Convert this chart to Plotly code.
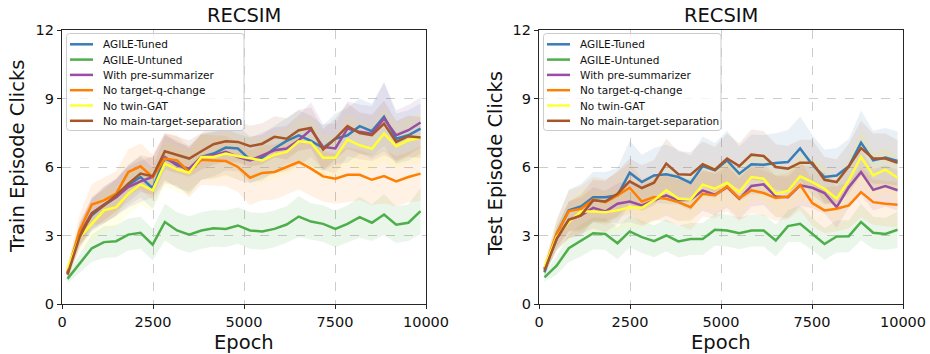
import plotly.graph_objects as go

epochs = [150, 484, 819, 1153, 1488, 1822, 2157, 2491, 2826, 3160, 3495, 3829, 4164, 4498, 4833,
          5167, 5502, 5836, 6171, 6505, 6840, 7174, 7509, 7843, 8178, 8512, 8847, 9181, 9516, 9850]

series_names = ["AGILE-Tuned", "AGILE-Untuned", "With pre-summarizer",
                "No target-q-change", "No twin-GAT", "No main-target-separation"]
series_colors = ["#377eb8", "#4daf4a", "#984ea3", "#ff7f00", "#ffff33", "#a65628"]

# ---- Train (left) ----
train_tuned = [1.32, 3.07, 3.88, 4.32, 4.68, 5.20, 5.56, 5.07, 6.37, 6.15, 5.82, 6.44, 6.59, 6.85, 6.81,
               6.32, 6.41, 6.81, 7.14, 7.39, 7.14, 6.83, 7.24, 7.39, 7.79, 7.57, 8.20, 7.24, 7.39, 7.68]
train_untuned = [1.10, 1.79, 2.44, 2.71, 2.75, 3.04, 3.12, 2.60, 3.59, 3.22, 3.04, 3.22, 3.32, 3.29, 3.44,
                 3.22, 3.18, 3.29, 3.48, 3.83, 3.61, 3.51, 3.29, 3.51, 3.80, 3.56, 3.92, 3.47, 3.56, 4.07]
train_presum = [1.35, 3.07, 3.98, 4.36, 4.68, 5.12, 5.37, 5.56, 6.44, 6.07, 5.93, 6.44, 6.51, 6.66, 6.44,
                6.29, 6.51, 6.73, 6.81, 7.17, 7.64, 6.88, 6.81, 7.68, 7.54, 7.46, 8.12, 7.39, 7.61, 7.95]
train_noq = [1.39, 3.22, 4.36, 4.54, 4.83, 5.78, 6.03, 5.56, 6.37, 6.29, 5.78, 6.32, 6.29, 6.26, 6.00,
             5.53, 5.74, 5.78, 6.00, 6.22, 5.93, 5.59, 5.49, 5.66, 5.66, 5.44, 5.60, 5.37, 5.56, 5.71]
train_notwin = [1.54, 2.93, 3.51, 4.10, 4.24, 4.83, 5.24, 4.98, 6.15, 5.90, 5.75, 6.44, 6.44, 6.59, 6.47,
                6.37, 6.29, 6.54, 6.66, 7.13, 7.07, 6.40, 6.40, 7.20, 6.95, 6.80, 7.46, 6.91, 7.17, 7.27]
train_nosep = [1.29, 2.93, 3.95, 4.32, 4.76, 5.27, 5.71, 5.59, 6.69, 6.54, 6.37, 6.69, 7.00, 7.13, 7.10,
               6.91, 7.02, 7.32, 7.24, 7.61, 7.71, 6.76, 7.24, 7.79, 7.49, 7.39, 7.90, 7.10, 7.35, 7.29]

train_tuned_sd = [0.2, 0.5, 0.7, 0.8, 0.8, 0.9, 0.9, 0.9, 1.0, 1.0, 1.0, 1.0, 1.0, 1.0, 1.0,
                  1.0, 1.0, 1.0, 1.0, 1.1, 1.1, 1.0, 1.1, 1.2, 1.2, 1.2, 1.5, 1.1, 1.1, 1.1]
train_untuned_sd = [0.2, 0.4, 0.6, 0.7, 0.7, 0.7, 0.7, 0.7, 0.8, 0.8, 0.8, 0.8, 0.8, 0.8, 0.8,
                    0.8, 0.8, 0.8, 0.8, 0.9, 0.8, 0.8, 0.8, 0.8, 0.9, 0.8, 0.9, 0.8, 0.8, 1.0]
train_presum_sd = [0.2, 0.5, 0.7, 0.8, 0.8, 0.9, 0.9, 0.9, 1.0, 1.0, 1.0, 1.0, 1.0, 1.0, 1.0,
                   1.0, 1.0, 1.0, 1.0, 1.1, 1.2, 1.0, 1.1, 1.2, 1.2, 1.2, 1.6, 1.1, 1.1, 1.1]
train_noq_sd = [0.3, 0.7, 0.9, 1.0, 1.0, 1.0, 1.0, 1.0, 1.1, 1.1, 1.1, 1.1, 1.1, 1.1, 1.1,
                1.2, 1.2, 1.2, 1.2, 1.2, 1.2, 1.1, 1.1, 1.2, 1.1, 1.1, 1.2, 1.1, 1.1, 1.2]
train_notwin_sd = [0.3, 0.6, 0.8, 0.9, 0.9, 0.9, 0.9, 0.9, 1.0, 1.0, 1.0, 1.0, 1.0, 1.0, 1.0,
                   1.0, 1.0, 1.0, 1.0, 1.1, 1.1, 1.0, 1.0, 1.1, 1.1, 1.0, 1.2, 1.0, 1.0, 1.1]
train_nosep_sd = [0.2, 0.5, 0.7, 0.7, 0.7, 0.8, 0.8, 0.8, 0.8, 0.8, 0.8, 0.8, 0.9, 0.9, 0.9,
                  0.9, 0.9, 0.9, 0.9, 0.9, 0.9, 0.9, 0.9, 1.0, 0.9, 0.9, 1.0, 0.9, 0.9, 0.9]

# ---- Test (right) ----
test_tuned = [1.39, 3.07, 4.10, 4.27, 4.68, 4.68, 4.76, 5.75, 5.34, 5.63, 5.68, 5.56, 5.30, 6.04, 5.85,
              6.29, 5.71, 6.12, 6.10, 6.18, 6.22, 6.81, 6.10, 5.56, 5.63, 6.03, 7.07, 6.29, 6.41, 6.26]
test_untuned = [1.17, 1.68, 2.44, 2.78, 3.10, 3.07, 2.66, 3.18, 2.93, 2.75, 3.00, 2.74, 2.85, 2.85, 3.25,
                3.22, 3.10, 3.22, 3.22, 2.78, 3.41, 3.51, 3.07, 2.63, 2.96, 2.97, 3.59, 3.12, 3.07, 3.25]
test_presum = [1.54, 2.85, 3.69, 3.88, 4.21, 4.05, 4.39, 4.49, 4.32, 4.54, 4.76, 4.54, 4.57, 4.98, 4.79,
               5.12, 4.61, 5.17, 5.24, 4.71, 4.68, 5.20, 5.09, 4.86, 4.24, 5.12, 5.78, 5.00, 5.17, 4.98]
test_noq = [1.54, 3.07, 4.07, 4.17, 4.57, 4.46, 4.76, 5.09, 4.49, 4.68, 4.61, 4.46, 4.24, 4.83, 4.76,
            5.15, 4.64, 4.98, 4.86, 4.64, 4.71, 5.22, 4.42, 4.10, 4.17, 4.32, 4.90, 4.46, 4.39, 4.35]
test_notwin = [1.61, 2.93, 3.59, 4.05, 4.05, 4.02, 4.10, 4.24, 4.21, 4.54, 4.98, 4.61, 4.57, 5.22, 5.05,
               5.31, 4.90, 5.56, 5.49, 4.83, 4.95, 5.59, 5.34, 5.05, 4.61, 5.41, 6.44, 5.63, 5.88, 5.53]
test_nosep = [1.46, 2.85, 3.69, 3.88, 4.54, 4.49, 4.83, 5.37, 5.08, 5.31, 6.15, 5.68, 5.66, 6.12, 5.88,
              6.37, 6.04, 6.54, 6.48, 6.00, 5.93, 6.19, 6.19, 5.44, 5.34, 6.03, 6.83, 6.37, 6.37, 6.18]

test_tuned_sd = [0.2, 0.6, 0.9, 1.0, 1.1, 1.1, 1.2, 1.4, 1.2, 1.2, 1.3, 1.2, 1.2, 1.3, 1.2,
                 1.3, 1.2, 1.3, 1.3, 1.3, 1.4, 1.4, 1.3, 1.2, 1.2, 1.2, 1.4, 1.3, 1.3, 1.3]
test_untuned_sd = [0.2, 0.4, 0.6, 0.7, 0.7, 0.7, 0.7, 0.7, 0.7, 0.7, 0.7, 0.7, 0.7, 0.7, 0.7,
                   0.7, 0.7, 0.7, 0.7, 0.7, 0.7, 0.8, 0.7, 0.7, 0.7, 0.7, 0.8, 0.7, 0.7, 0.8]
test_presum_sd = [0.2, 0.5, 0.8, 0.8, 0.9, 0.9, 0.9, 0.9, 0.9, 0.9, 0.9, 0.9, 0.9, 0.9, 0.9,
                  0.9, 0.9, 0.9, 0.9, 0.9, 0.9, 0.9, 0.9, 0.9, 0.9, 0.9, 1.0, 0.9, 0.9, 0.9]
test_noq_sd = [0.3, 0.6, 0.9, 1.0, 1.0, 1.0, 1.0, 1.1, 1.0, 1.0, 1.0, 1.0, 1.0, 1.0, 1.0,
               1.1, 1.0, 1.0, 1.0, 1.0, 1.0, 1.1, 1.0, 1.0, 1.0, 1.0, 1.1, 1.0, 1.0, 1.0]
test_notwin_sd = [0.3, 0.6, 0.8, 0.9, 0.9, 0.9, 0.9, 0.9, 0.9, 1.0, 1.0, 1.0, 1.0, 1.0, 1.0,
                  1.0, 1.0, 1.0, 1.0, 1.0, 1.0, 1.0, 1.0, 1.0, 1.0, 1.0, 1.2, 1.0, 1.0, 1.0]
test_nosep_sd = [0.2, 0.5, 0.8, 0.9, 0.9, 0.9, 1.0, 1.0, 1.0, 1.0, 1.1, 1.0, 1.0, 1.0, 1.0,
                 1.1, 1.0, 1.1, 1.1, 1.0, 1.0, 1.0, 1.0, 1.0, 1.0, 1.0, 1.2, 1.1, 1.1, 1.0]

x_ticks = [0, 2500, 5000, 7500, 10000]
x_tick_labels = ["0", "2500", "5000", "7500", "10000"]
y_ticks = [0, 3, 6, 9, 12]
y_tick_labels = ["0", "3", "6", "9", "12"]

panel_titles = ["RECSIM", "RECSIM"]
x_title = "Epoch"
y_titles = ["Train Episode Clicks", "Test Episode Clicks"]

train_means = [train_tuned, train_untuned, train_presum, train_noq, train_notwin, train_nosep]
train_sds = [train_tuned_sd, train_untuned_sd, train_presum_sd, train_noq_sd, train_notwin_sd, train_nosep_sd]
test_means = [test_tuned, test_untuned, test_presum, test_noq, test_notwin, test_nosep]
test_sds = [test_tuned_sd, test_untuned_sd, test_presum_sd, test_noq_sd, test_notwin_sd, test_nosep_sd]

FONT = "DejaVu Sans"
TXT = "#111111"

# ---- pixel geometry ----
W, H = 930, 354
L0, R0, T0, B0 = 62, 27, 30, 50
pw = W - L0 - R0
ph = H - T0 - B0
AX_LEFT = [62, 539]
AX_W = 364


def px(v):
    return (v - L0) / pw


def py(v):
    return (H - B0 - v) / ph


def rgba(hex_color, a):
    h = hex_color.lstrip("#")
    r, g, b = int(h[0:2], 16), int(h[2:4], 16), int(h[4:6], 16)
    return f"rgba({r},{g},{b},{a})"


fig = go.Figure()

panels = [("x", "y", train_means, train_sds), ("x2", "y2", test_means, test_sds)]

for xa, ya, means, sds in panels:
    for color, m, s in zip(series_colors, means, sds):
        upper = [a + b for a, b in zip(m, s)]
        lower = [a - b for a, b in zip(m, s)]
        fig.add_trace(go.Scatter(
            x=epochs + epochs[::-1], y=upper + lower[::-1],
            fill="toself", fillcolor=rgba(color, 0.11), line=dict(width=0),
            mode="lines", hoverinfo="skip", showlegend=False, xaxis=xa, yaxis=ya))
    for name, color, m in zip(series_names, series_colors, means):
        fig.add_trace(go.Scatter(
            x=epochs, y=m, mode="lines", name=name,
            line=dict(color=color, width=2.5), showlegend=False,
            xaxis=xa, yaxis=ya))

axis_common = dict(
    showline=True, linecolor="#262626", linewidth=1.2, mirror=True,
    ticks="outside", ticklen=4, tickcolor="#262626",
    showgrid=True, gridcolor="#cccccc", griddash="dash", gridwidth=1,
    zeroline=False, automargin=False,
    tickfont=dict(family=FONT, size=14.5, color=TXT),
)

fig.update_layout(
    width=W, height=H, autosize=False,
    margin=dict(l=L0, r=R0, t=T0, b=B0, autoexpand=False),
    paper_bgcolor="white", plot_bgcolor="white",
    font=dict(family=FONT, color=TXT),
    showlegend=False,
    xaxis=dict(domain=[px(AX_LEFT[0]), px(AX_LEFT[0] + AX_W)], range=[0, 10000],
               tickvals=x_ticks, ticktext=x_tick_labels, anchor="y", **axis_common),
    yaxis=dict(domain=[0, 1], range=[0, 12], tickvals=y_ticks, ticktext=y_tick_labels,
               anchor="x", **axis_common),
    xaxis2=dict(domain=[px(AX_LEFT[1]), px(AX_LEFT[1] + AX_W)], range=[0, 10000],
                tickvals=x_ticks, ticktext=x_tick_labels, anchor="y2", **axis_common),
    yaxis2=dict(domain=[0, 1], range=[0, 12], tickvals=y_ticks, ticktext=y_tick_labels,
                anchor="x2", **axis_common),
)

annotations = []
shapes = []
title_font = dict(family=FONT, size=19.5, color=TXT)
label_font = dict(family=FONT, size=19.5, color=TXT)
legend_font = dict(family=FONT, size=10.5, color=TXT)

ytitle_x = [17, 495]
ytitle_y = [157, 163]
for k in range(2):
    ax0 = AX_LEFT[k]
    cx = ax0 + AX_W / 2
    annotations.append(dict(text=panel_titles[k], x=px(cx), y=py(15), xref="paper", yref="paper",
                            showarrow=False, font=title_font, xanchor="center", yanchor="middle"))
    annotations.append(dict(text=x_title, x=px(cx), y=py(342), xref="paper", yref="paper",
                            showarrow=False, font=label_font, xanchor="center", yanchor="middle"))
    annotations.append(dict(text=y_titles[k], x=px(ytitle_x[k]), y=py(ytitle_y[k]),
                            xref="paper", yref="paper", showarrow=False, font=label_font,
                            textangle=-90, xanchor="center", yanchor="middle"))
    # custom legend (matplotlib style)
    bx0, bx1 = ax0 + 4.5, ax0 + 182
    by0, by1 = 33.5, 130.5
    r = 3
    path = (f"M {px(bx0 + r)} {py(by0)} L {px(bx1 - r)} {py(by0)} "
            f"Q {px(bx1)} {py(by0)} {px(bx1)} {py(by0 + r)} "
            f"L {px(bx1)} {py(by1 - r)} Q {px(bx1)} {py(by1)} {px(bx1 - r)} {py(by1)} "
            f"L {px(bx0 + r)} {py(by1)} Q {px(bx0)} {py(by1)} {px(bx0)} {py(by1 - r)} "
            f"L {px(bx0)} {py(by0 + r)} Q {px(bx0)} {py(by0)} {px(bx0 + r)} {py(by0)} Z")
    shapes.append(dict(type="path", path=path, xref="paper", yref="paper",
                       fillcolor="rgba(255,255,255,0.8)", line=dict(color="#cccccc", width=1),
                       layer="above"))
    for i, (name, color) in enumerate(zip(series_names, series_colors)):
        rowy = 44.3 + i * 15.3
        shapes.append(dict(type="line", xref="paper", yref="paper",
                           x0=px(ax0 + 8), x1=px(ax0 + 31), y0=py(rowy), y1=py(rowy),
                           line=dict(color=color, width=2.5), layer="above"))
        annotations.append(dict(text=name, x=px(ax0 + 39), y=py(rowy), xref="paper", yref="paper",
                                showarrow=False, font=legend_font, xanchor="left",
                                yanchor="middle"))

fig.update_layout(annotations=annotations, shapes=shapes)

fig.write_html("out.html", config={"displayModeBar": False},
               post_script="document.body.style.margin='0';document.body.style.padding='0';")
